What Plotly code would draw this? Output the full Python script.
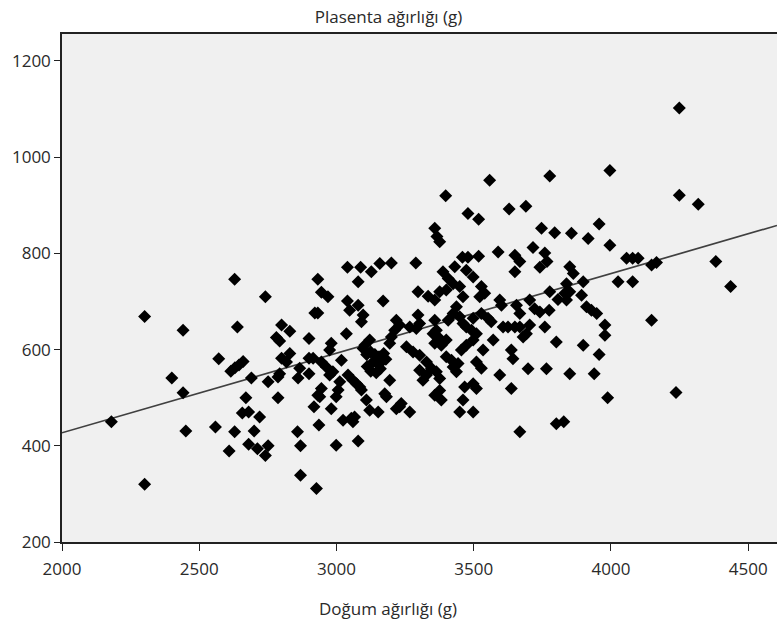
import plotly.graph_objects as go

# Birth weight (g) / placenta weight (g)
birth_weight = [
    2180, 2301, 2301, 2400, 2441, 2441, 2451, 2559, 2571, 2609, 2615, 2630, 2645, 2660, 2629, 2639, 2629,
    2657, 2680, 2670, 2690, 2700, 2680, 2712, 2751, 2741, 2720, 2741, 2751, 2781, 2793, 2787, 2793, 2787,
    2800, 2830, 2800, 2818, 2830, 2860, 2866, 2858, 2869, 2869, 2900, 2900, 2915, 2900, 2921, 2932, 2932,
    2918, 2932, 2936, 2927,
    3558, 3398, 3479, 3518, 3629, 3690, 3358, 3366, 3376, 3747, 3795, 3459, 3479, 3518, 3589, 3650, 3668,
    3716, 3741, 3650, 3040, 3088, 3127, 3158, 3200, 3289, 3079, 2945, 2969, 3040, 3079, 3048, 3170, 3097,
    3091, 3297, 3334, 3358, 3376, 3400, 3388, 3407, 3425, 3431, 3449, 3461, 3473, 3498, 3528, 3522, 3540,
    3595, 3601, 3656, 3668, 3704, 3722, 3741, 3777, 3775, 3807, 3759, 3767,
    3437, 3425, 3407, 3449, 3461, 3473, 3498, 3492, 3510, 3528, 3552, 3564, 3607, 3625, 3650, 3668, 3704,
    3692, 3680, 3759, 3801,
    3218, 3230, 3212, 3267, 3297, 3303, 3291, 3358, 3364, 3352, 3376, 3400, 3382, 3358, 3255, 3279, 3303,
    3328, 3194, 3200, 3121, 3103, 3036, 2981, 2975, 2945, 2963, 2987, 2975, 3018,
    3110, 3125, 3140, 3155, 3165, 3160, 3145, 3125, 3112, 3130, 3150, 3172, 3180,
    3097, 3194, 3042, 3060, 3073, 3085, 3091, 3012, 3006, 2999, 2945, 2939, 2981, 3024, 3054, 3066, 3060,
    2999, 3079, 3109, 3121, 3152, 3182, 3176, 3218, 3236, 3230, 3267, 3303, 3315, 3328, 3346, 3364, 3376,
    3400, 3419, 3425, 3437, 3443, 3455, 3473, 3498, 3510, 3534, 3528, 3571, 3637, 3643, 3698, 3765, 3595,
    3637, 3358, 3376, 3382, 3467, 3498, 3510, 3449, 3498, 3461, 3668, 3801,
    4249, 3996, 3777, 4249, 4318, 3957, 3856, 3917, 3996, 4057, 4079, 4099, 4148, 4166, 4382, 3850, 3863,
    3838, 3832, 3850, 3899, 3893, 3838, 3911, 3929, 3948, 4026, 4079, 4436, 3978, 3978, 4148, 3899, 3957,
    3850, 3939, 3988, 4237, 3828,
]
placenta_weight = [
    450, 669, 320, 541, 640, 510, 431, 439, 581, 389, 555, 562, 568, 575, 746, 647, 429,
    468, 470, 500, 541, 431, 403, 394, 400, 380, 460, 710, 533, 625, 618, 543, 550, 500,
    651, 638, 582, 574, 592, 541, 561, 429, 400, 339, 623, 582, 582, 550, 676, 676, 746,
    481, 505, 443, 311,
    952, 920, 883, 871, 892, 898, 852, 835, 824, 852, 843, 792, 792, 794, 803, 796, 783,
    812, 771, 762, 771, 771, 762, 779, 780, 780, 741, 719, 710, 701, 692, 682, 701, 672,
    658, 720, 711, 703, 720, 724, 762, 748, 737, 772, 731, 710, 765, 751, 731, 710, 717,
    703, 692, 692, 675, 703, 685, 678, 720, 682, 704, 801, 783,
    689, 675, 661, 668, 654, 647, 665, 640, 633, 675, 665, 658, 647, 647, 647, 647, 651,
    633, 626, 647, 616,
    661, 651, 640, 647, 672, 654, 644, 661, 640, 633, 623, 620, 609, 613, 606, 595, 588,
    574, 613, 626, 620, 609, 633, 613, 599, 574, 564, 554, 547, 578,
    590, 595, 590, 585, 575, 560, 552, 555, 565, 572, 570, 592, 580,
    602, 536, 547, 536, 529, 522, 516, 533, 516, 502, 519, 502, 477, 453, 457, 460, 450,
    401, 410, 495, 474, 470, 502, 508, 477, 488, 481, 470, 557, 536, 547, 561, 554, 540,
    585, 578, 564, 554, 571, 599, 609, 620, 574, 599, 561, 620, 599, 581, 560, 560, 547,
    519, 505, 515, 495, 522, 529, 519, 470, 470, 495, 429, 446,
    1102, 972, 961, 921, 902, 861, 842, 831, 817, 790, 790, 790, 776, 781, 783, 772, 758,
    737, 717, 720, 741, 713, 703, 689, 682, 675, 741, 741, 731, 651, 630, 661, 609, 590,
    550, 550, 500, 511, 450,
]

# Fitted regression line as drawn in the picture
fit_x = [2000, 4605]
fit_y = [427, 858]

x_ticks = [2000, 2500, 3000, 3500, 4000, 4500]
y_ticks = [200, 400, 600, 800, 1000, 1200]

FONT = "Open Sans"
TXT = "#2a2a2a"
FS = 17

fig = go.Figure()
fig.add_trace(go.Scatter(
    x=fit_x, y=fit_y, mode="lines",
    line=dict(color="#404040", width=1.7),
    hoverinfo="skip", showlegend=False,
))
fig.add_trace(go.Scatter(
    x=birth_weight, y=placenta_weight, mode="markers",
    marker=dict(symbol="diamond", size=10, color="#000000", line=dict(width=0)),
    showlegend=False,
))

fig.update_layout(
    width=777, height=627,
    margin=dict(l=62, r=0, t=34, b=85),
    paper_bgcolor="white",
    plot_bgcolor="#f0f0f0",
    font=dict(family=FONT, size=FS, color=TXT),
    title=dict(text="Plasenta ağırlığı (g)", x=0.5, xref="container", xanchor="center",
               y=1 - 17 / 627, yref="container", yanchor="middle",
               font=dict(family=FONT, size=FS, color=TXT)),
    xaxis=dict(range=[2000, 4605], tickvals=x_ticks, ticks="outside", ticklen=7,
               tickcolor="#222", tickwidth=1.3, showgrid=False, zeroline=False,
               showline=True, linecolor="#222", linewidth=1.5, mirror=True,
               ticklabelstandoff=4,
               tickfont=dict(family=FONT, size=FS, color=TXT)),
    yaxis=dict(range=[200, 1256], tickvals=y_ticks, ticks="outside", ticklen=6,
               tickcolor="#222", tickwidth=1.3, showgrid=False, zeroline=False,
               showline=True, linecolor="#222", linewidth=1.5,
               tickfont=dict(family=FONT, size=FS, color=TXT)),
    annotations=[dict(text="Doğum ağırlığı (g)", xref="paper", yref="paper",
                      x=(388 - 62) / 715, y=-(608 - 541.7) / 508, xanchor="center",
                      yanchor="middle", showarrow=False,
                      font=dict(family=FONT, size=FS, color=TXT))],
)

fig.write_html("out.html")
